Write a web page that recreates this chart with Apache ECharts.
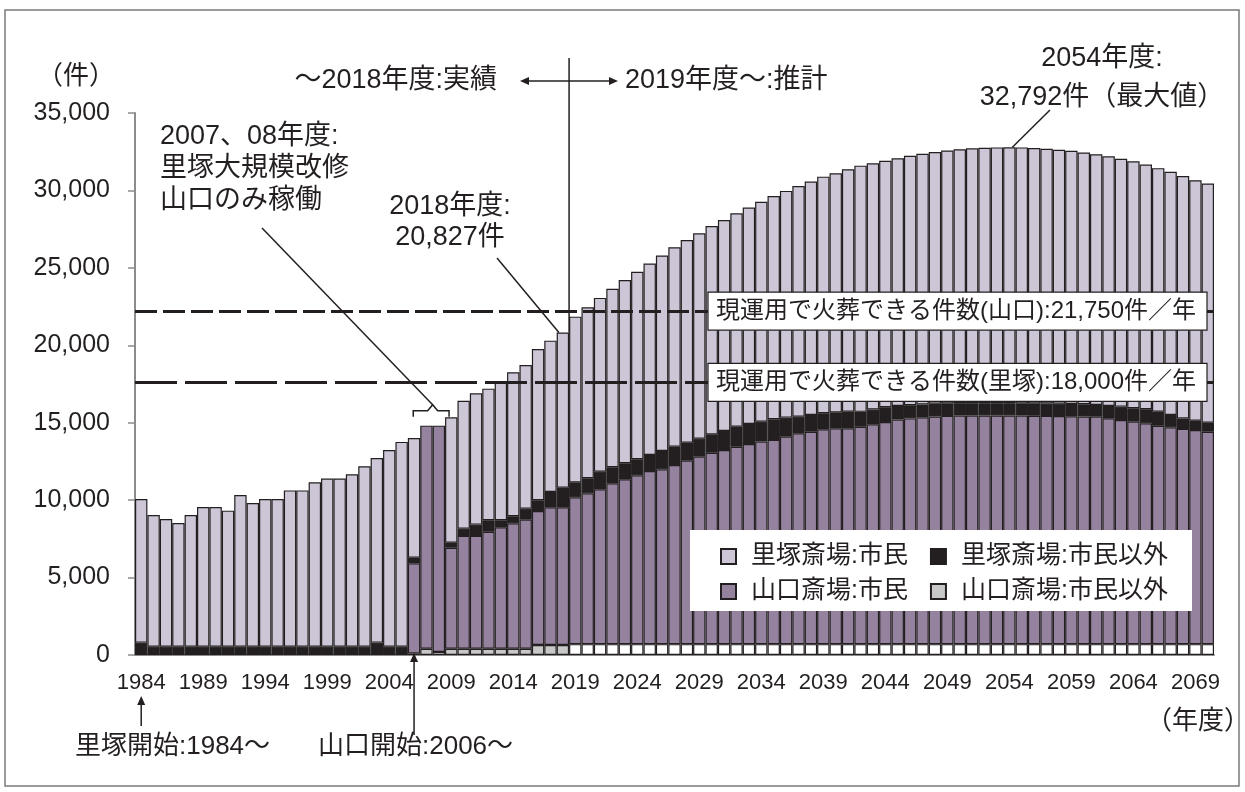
<!DOCTYPE html>
<html>
<head>
<meta charset="utf-8">
<script src="https://cdn.jsdelivr.net/npm/echarts@6/dist/echarts.min.js"></script>
<style>
  html, body { margin: 0; padding: 0; background: #fff; }
  #main { width: 1245px; height: 792px; }
</style>
</head>
<body>
<div id="main"></div>
<script>
// years 1984 - 2070 (fiscal years)
var years = [];
for (var yr = 1984; yr <= 2070; yr++) years.push(String(yr));

// 山口斎場:市民以外 (bottom of the stack)
var yamaOther = [
  0, 0, 0, 0, 0, 0,                                        // 1984-1989
  0, 0, 0, 0, 0, 0, 0, 0, 0, 0,                            // 1990-1999
  0, 0, 0, 0, 0, 0, 100, 400, 200, 400,                    // 2000-2009
  400, 400, 400, 400, 400, 400, 650, 650, 650, 700,        // 2010-2019
  700, 700, 700, 700, 700, 700, 700, 700, 700, 700,        // 2020-2029
  700, 700, 700, 700, 700, 700, 700, 700, 700, 700,        // 2030-2039
  700, 700, 700, 700, 700, 700, 700, 700, 700, 700,        // 2040-2049
  700, 700, 700, 700, 700, 700, 700, 700, 700, 700,        // 2050-2059
  700, 700, 700, 700, 700, 700, 700, 700, 700, 700,        // 2060-2069
  700                                                      // 2070
];
// 山口斎場:市民
var yamaCitizen = [
  0, 0, 0, 0, 0, 0,
  0, 0, 0, 0, 0, 0, 0, 0, 0, 0,
  0, 0, 0, 0, 0, 0, 5820, 14410, 14610, 6530,
  7290, 7290, 7560, 7850, 8100, 8340, 8650, 8890, 8890, 9480,
  9740, 10000, 10390, 10650, 10900, 11180, 11290, 11570, 11850, 12110,
  12360, 12540, 12750, 12930, 13080, 13190, 13400, 13620, 13720, 13880,
  13940, 13940, 14040, 14200, 14350, 14500, 14580, 14650, 14700, 14740,
  14760, 14760, 14770, 14770, 14770, 14760, 14750, 14740, 14730, 14720,
  14700, 14690, 14590, 14480, 14370, 14260, 14100, 14000, 13900, 13830,
  13720
];
// 里塚斎場:市民以外
var satoOther = [
  800, 540, 540, 540, 540, 540,
  540, 540, 540, 540, 540, 540, 540, 540, 540, 540,
  540, 540, 540, 800, 540, 540, 360, 0, 0, 320,
  470, 730, 740, 450, 460, 710, 690, 990, 1260, 970,
  970, 1140, 1030, 1030, 1040, 1040, 1180, 1180, 1160, 1160,
  1190, 1230, 1290, 1290, 1290, 1330, 1230, 1070, 1080, 1030,
  1030, 1070, 960, 950, 950, 880, 850, 830, 820, 810,
  800, 800, 790, 790, 790, 790, 800, 800, 800, 790,
  790, 760, 790, 860, 860, 910, 910, 800, 680, 600,
  580
];
// 里塚斎場:市民 (top of the stack)
var satoCitizen = [
  9270, 8500, 8240, 7980, 8500, 9020,
  9020, 8780, 9790, 9280, 9530, 9530, 10090, 10090, 10610, 10850,
  10850, 11130, 11650, 11920, 12700, 13220, 7730, 0, 0, 8100,
  8260, 8480, 8500, 9000, 9300, 9280, 9770, 9770, 10027, 10700,
  11040, 11220, 11530, 11830, 12110, 12360, 12630, 12880, 13090, 13260,
  13450, 13620, 13780, 13970, 14200, 14420, 14640, 14900, 15070, 15280,
  15440, 15660, 15900, 15900, 15920, 16000, 16110, 16190, 16260, 16330,
  16400, 16460, 16500, 16520, 16532, 16530, 16490, 16450, 16400, 16350,
  16260, 16180, 16120, 16010, 15950, 15800, 15730, 15700, 15650, 15530,
  15450
];

var seriesNames = ['山口斎場:市民以外', '山口斎場:市民', '里塚斎場:市民以外', '里塚斎場:市民'];
var legendRow1 = ['里塚斎場:市民', '里塚斎場:市民以外'];
var legendRow2 = ['山口斎場:市民', '山口斎場:市民以外'];
var yTicks = [0, 5000, 10000, 15000, 20000, 25000, 30000, 35000];
var estimateFrom = '2019';          // projections start here
var capLines = [
  { value: 22200, text: '現運用で火葬できる件数(山口):21,750件／年', dash: [22, 6] },
  { value: 17600, text: '現運用で火葬できる件数(里塚):18,000件／年', dash: [42, 8] }
];

var INK = '#231f20';
var AX = '#8c8c8c';
var FONT = "'Liberation Sans','Noto Sans CJK JP',sans-serif";

function makeData(arr, whiteFromYear) {
  return arr.map(function (v, i) {
    if (!v) return '-';
    if (whiteFromYear && years[i] >= whiteFromYear) {
      return { value: v, itemStyle: { color: '#ffffff' } };
    }
    return v;
  });
}

var colors = ['#c8c8c8', '#94829f', INK, '#cdc6d6'];
var raw = [yamaOther, yamaCitizen, satoOther, satoCitizen];

var series = seriesNames.map(function (name, k) {
  return {
    name: name,
    type: 'bar',
    stack: 'total',
    barCategoryGap: '0%',
    itemStyle: { color: colors[k], borderColor: INK, borderWidth: 1.2 },
    emphasis: { disabled: true },
    data: makeData(raw[k], k === 0 ? estimateFrom : null)
  };
});
series[3].markLine = {
  silent: true,
  symbol: 'none',
  label: { show: false },
  data: capLines.map(function (c) {
    return { yAxis: c.value, lineStyle: { color: INK, width: 3, type: c.dash } };
  })
};

function legendRow(names, top) {
  return {
    data: names, left: 720, top: top, padding: 0,
    orient: 'horizontal',
    icon: 'rect', itemWidth: 15, itemHeight: 15, itemGap: 22,
    textStyle: { fontSize: 25, fontFamily: FONT, color: INK, padding: [0, 0, 0, 10] },
    selectedMode: false, z: 10
  };
}

var myChart = echarts.init(document.getElementById('main'));
myChart.setOption({
  backgroundColor: '#fff',
  animation: false,
  grid: { left: 135, right: 31, top: 113, bottom: 137 },
  legend: [legendRow(legendRow1, 544), legendRow(legendRow2, 579)],
  xAxis: {
    type: 'category',
    data: years,
    axisLine: { lineStyle: { color: AX, width: 2 } },
    axisTick: { interval: 0, length: 7, lineStyle: { color: AX, width: 1.5 } },
    axisLabel: { interval: 4, margin: 17, fontSize: 22, fontFamily: FONT, color: INK }
  },
  yAxis: {
    type: 'value',
    min: yTicks[0], max: yTicks[yTicks.length - 1], interval: 5000,
    splitLine: { show: false },
    axisLine: { show: true, lineStyle: { color: AX, width: 2 } },
    axisTick: { show: true, length: 7, lineStyle: { color: AX, width: 1.5 } },
    axisLabel: {
      margin: 25, fontSize: 25, fontFamily: FONT, color: INK,
      formatter: function (v) { return v.toLocaleString('en-US'); }
    }
  },
  series: series
});

// annotations, anchored to the chart's own scale
function px(cat, val) { return myChart.convertToPixel({ xAxisIndex: 0, yAxisIndex: 0 }, [cat, val]); }
function total(i) { return yamaOther[i] + yamaCitizen[i] + satoOther[i] + satoCitizen[i]; }
var bw = px('1985', 0)[0] - px('1984', 0)[0];

function txt(x, y, s, size, align, lh) {
  return { type: 'text', z: 100, style: { x: x, y: y, text: s, fill: INK, font: size + 'px ' + FONT, textAlign: align || 'left', textVerticalAlign: 'middle', lineHeight: lh || size } };
}
function line(x1, y1, x2, y2, w) {
  return { type: 'line', z: 100, shape: { x1: x1, y1: y1, x2: x2, y2: y2 }, style: { stroke: INK, lineWidth: w || 1.5 } };
}
function head(x, y, dir) { // small arrow head, tip at x,y
  var L = 9, H = 4, pts;
  if (dir === 'left') pts = [[x, y], [x + L, y - H], [x + L, y + H]];
  else if (dir === 'right') pts = [[x, y], [x - L, y - H], [x - L, y + H]];
  else pts = [[x, y], [x - H, y + L], [x + H, y + L]]; // up
  return { type: 'polygon', z: 100, shape: { points: pts }, style: { fill: INK } };
}

var g = [];
g.push({ type: 'rect', z: 0, shape: { x: 5, y: 10, width: 1234, height: 776 }, style: { fill: 'none', stroke: '#7a7a7a', lineWidth: 1.5 } });
// white panel behind the legend
g.push({ type: 'rect', z: 3, shape: { x: 690, y: 530, width: 502, height: 81 }, style: { fill: '#fff' } });
g.push(txt(76, 77, '（件）', 26, 'center'));
g.push(txt(1198, 722, '（年度）', 26, 'center'));

// actual / estimate divider
var i18 = years.indexOf('2018');
var top18 = px('2018', total(i18));
var divX = top18[0] + bw / 2;
g.push(line(divX, 58, divX, top18[1], 1.5));
g.push(line(524, 81, 614, 81, 1.5));
g.push(head(520, 81, 'left'));
g.push(head(618, 81, 'right'));
g.push(txt(497, 81, '～2018年度:実績', 27, 'right'));
g.push(txt(625, 81, '2019年度～:推計', 27, 'left'));

// 2007-08 bracket
var i07 = years.indexOf('2007');
var p07 = px('2007', total(i07));
var p08 = px('2008', total(i07 + 1));
var bx0 = p07[0] - bw / 2 - 7, bx1 = p08[0] + bw / 2 + 4, by = p07[1] - 15, bm = (p07[0] + p08[0]) / 2;
g.push({ type: 'polyline', z: 100, shape: { points: [[bx0, by + 6], [bx0, by], [bm - 5, by], [bm, by - 6], [bm + 5, by], [bx1, by], [bx1, by + 6]] }, style: { stroke: INK, lineWidth: 1.5, fill: 'none' } });
g.push(line(262, 228, bm, by - 6, 1.5));
g.push(txt(160, 169, '2007、08年度:\n里塚大規模改修\n山口のみ稼働', 27, 'left', 32));

// 2018 callout
g.push(txt(450, 222, '2018年度:\n20,827件', 27, 'center', 31));
g.push(line(497, 258, top18[0] - 4, top18[1], 1.5));

// 2054 peak callout
var i54 = years.indexOf('2054');
var top54 = px('2054', total(i54));
g.push(txt(1102, 78, '2054年度:\n32,792件（最大値）', 27, 'center', 39));
g.push(line(1050, 110, top54[0] + 3, top54[1], 1.5));

// capacity boxes
capLines.forEach(function (c) {
  var yy = px('2040', c.value)[1];
  g.push({ type: 'rect', z: 100, shape: { x: 708, y: yy - 19, width: 499, height: 38 }, style: { fill: '#fff', stroke: INK, lineWidth: 1.2 } });
  g.push(txt(716, yy, c.text, 24, 'left'));
});

// opening arrows under the axis
var p84 = px('1984', 0), p06 = px('2006', 0);
g.push(line(p84[0], 726, p84[0], 700, 1.5));
g.push(head(p84[0], 696, 'up'));
g.push(txt(75, 747, '里塚開始:1984～', 26, 'left'));
g.push(line(p06[0], 735, p06[0], p06[1] + 6, 1.5));
g.push(head(p06[0], p06[1] - 2, 'up'));
g.push(txt(318, 747, '山口開始:2006～', 26, 'left'));

myChart.setOption({ graphic: { elements: g } });
</script>
</body>
</html>
